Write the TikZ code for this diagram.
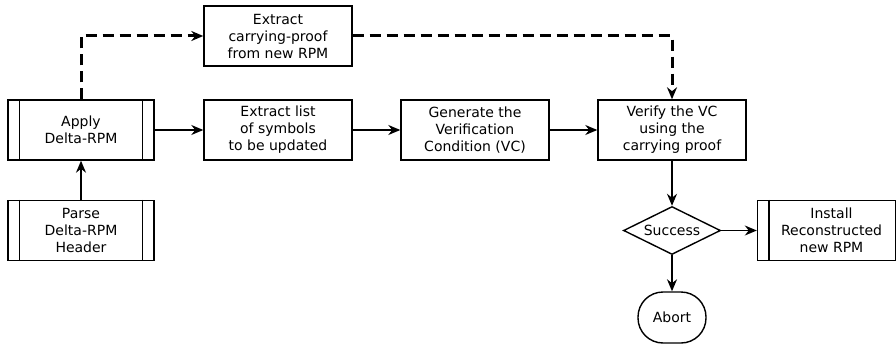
\documentclass[tikz,border=0pt]{standalone}
\usepackage{fontspec}
\setmainfont{DejaVu Sans}
\usetikzlibrary{shapes.geometric,arrows.meta,positioning}
\begin{document}
\begin{tikzpicture}[x=1pt,y=-1pt,
  every node/.style={font=\fontsize{14}{17}\selectfont, align=center, inner sep=0pt},
  procbox/.style={draw, line width=1.4pt, minimum width=148pt, minimum height=60pt},
  subbox/.style={procbox, minimum width=146pt},
  decbox/.style={draw, line width=1.4pt, diamond, aspect=2, minimum width=97pt, minimum height=48pt},
  termbox/.style={draw, line width=1.4pt, rounded corners=25pt, minimum width=68pt, minimum height=51pt},
  arr/.style={-{Stealth[length=12pt,width=10pt]}, line width=1.4pt},
  darr/.style={-{Stealth[length=12pt,width=10pt]}, line width=3pt, dash pattern=on 11pt off 6pt}]
\useasboundingbox (0,0) rectangle (896,345);
\node[subbox] (apply) at (81,130) {Apply\\Delta-RPM};
\node[subbox] (parse) at (81,230.5) {Parse\\Delta-RPM\\Header};
\node[procbox] (carry) at (278,36) {Extract\\carrying-proof\\from new RPM};
\node[procbox] (list) at (278,130) {Extract list\\of symbols\\to be updated};
\node[procbox] (gen) at (475,130) {Generate the\\Verification\\Condition (VC)};
\node[procbox] (ver) at (672,130) {Verify the VC\\using the\\carrying proof};
\node[decbox] (succ) at (672,230.5) {Success};
\node[draw, line width=1.4pt, minimum width=138pt, minimum height=60pt] (inst) at (826.5,230.5) {\hspace*{10pt}Install\\\hspace*{10pt}Reconstructed\\\hspace*{10pt}new RPM};
\node[termbox] (abort) at (672,317.5) {Abort};
% inner lines of subprocess boxes
\foreach \n in {apply,parse}{
  \draw[line width=1.4pt] ([xshift=12pt]\n.north west) -- ([xshift=12pt]\n.south west);
  \draw[line width=1.4pt] ([xshift=-12pt]\n.north east) -- ([xshift=-12pt]\n.south east);
}
\draw[line width=1.4pt] ([xshift=12pt]inst.north west) -- ([xshift=12pt]inst.south west);
% connectors
\draw[arr] (parse) -- (apply);
\draw[arr] (apply) -- (list);
\draw[arr] (list) -- (gen);
\draw[arr] (gen) -- (ver);
\draw[arr] (ver) -- (succ);
\draw[arr] (succ.east) -- (inst.west);
\draw[arr] (succ) -- (abort);
\draw[darr] (apply.north) |- (carry.west);
\draw[darr] (carry.east) -| (ver.north);
\end{tikzpicture}
\end{document}
